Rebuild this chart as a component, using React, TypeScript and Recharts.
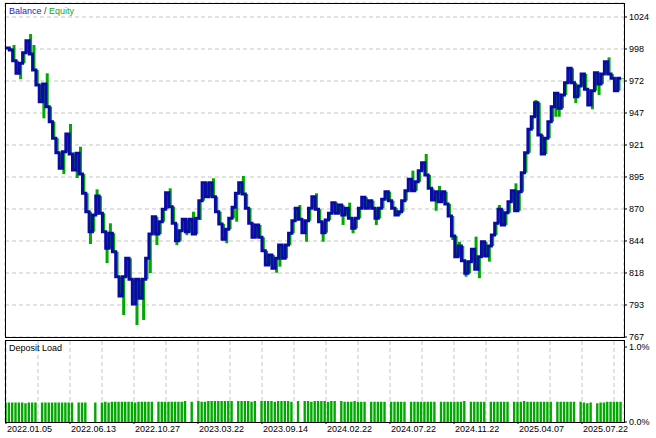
import React from "react";
import { ComposedChart, Line, Bar, XAxis, YAxis, CartesianGrid } from "recharts";

// balance after each deal (x axis = deal number)
const balance = [
  999.0, 997.5, 988.9, 978.8, 986.8, 995.3, 1005.0, 994.3, 981.4, 969.4,
  956.0, 970.2, 952.0, 939.9, 926.6, 915.0, 902.5, 915.8, 930.0, 914.0,
  901.1, 914.5, 897.9, 882.4, 867.6, 851.6, 865.0, 880.2, 866.4, 851.6,
  838.2, 850.3, 835.5, 815.4, 799.9, 815.4, 830.2, 813.3, 793.5, 813.3,
  798.1, 813.3, 830.2, 849.7, 863.6, 849.7, 859.6, 869.6, 882.9, 871.7,
  858.3, 844.3, 852.4, 861.5, 851.6, 861.5, 849.7, 862.3, 876.5, 890.9,
  879.7, 890.9, 879.7, 867.6, 857.8, 845.5, 853.5, 862.3, 871.2, 882.4,
  890.9, 881.9, 870.4, 858.3, 847.1, 857.0, 847.1, 836.3, 824.8, 832.9,
  822.2, 830.2, 840.9, 830.2, 840.9, 850.3, 860.4, 870.4, 861.5, 850.8,
  860.4, 870.4, 879.7, 869.6, 859.6, 850.8, 861.0, 866.4, 874.9, 866.4,
  873.0, 865.0, 870.4, 862.3, 854.3, 862.3, 870.4, 879.2, 870.4, 876.5,
  870.4, 862.3, 870.4, 877.6, 883.7, 876.5, 870.4, 865.0, 867.6, 876.5,
  884.5, 893.7, 884.5, 891.7, 900.6, 907.0, 897.1, 886.4, 877.0, 883.7,
  875.7, 883.7, 873.8, 864.2, 848.1, 831.5, 840.1, 828.3, 818.2, 827.5,
  837.4, 821.4, 831.5, 843.5, 832.1, 840.1, 848.9, 858.3, 869.6, 857.0,
  866.8, 875.7, 884.5, 868.4, 883.7, 899.0, 915.0, 933.8, 943.9, 955.2,
  929.2, 914.0, 926.6, 939.9, 952.0, 962.7, 950.7, 961.4, 971.2, 982.8,
  971.2, 960.0, 968.6, 978.2, 965.9, 953.3, 964.8, 979.3, 970.2, 978.2,
  988.1, 978.2, 974.8, 964.8, 974.8, 974.8,
];

// furthest equity reached during each deal
const equity = [
  999.0, 997.5, 1001.5, 978.8, 974.0, 995.3, 1005.0, 1010.3, 1001.5, 969.4,
  956.0, 942.6, 978.8, 939.9, 926.6, 915.0, 902.5, 897.9, 930.0, 938.1,
  901.1, 894.7, 919.8, 882.4, 867.6, 841.7, 865.0, 885.6, 866.4, 851.6,
  826.4, 858.3, 835.5, 815.4, 799.9, 784.7, 830.2, 813.3, 793.5, 776.6,
  798.1, 780.7, 830.2, 818.4, 863.6, 840.9, 859.6, 869.6, 882.9, 886.4,
  858.3, 840.9, 852.4, 861.5, 848.9, 861.5, 867.6, 862.3, 861.0, 890.9,
  879.7, 890.9, 894.5, 867.6, 857.8, 845.5, 842.3, 862.3, 871.2, 859.6,
  890.9, 896.3, 870.4, 858.3, 847.1, 857.0, 847.1, 836.3, 824.8, 832.9,
  822.2, 818.6, 823.5, 830.2, 840.9, 850.3, 860.4, 870.4, 873.0, 850.8,
  843.5, 870.4, 879.7, 882.4, 859.6, 843.5, 861.0, 866.4, 874.9, 866.4,
  873.0, 857.0, 870.4, 874.9, 850.3, 862.3, 870.4, 879.2, 870.4, 876.5,
  870.4, 857.0, 870.4, 877.6, 883.7, 876.5, 870.4, 865.0, 867.6, 876.5,
  884.5, 893.7, 900.6, 891.7, 900.6, 907.0, 914.0, 886.4, 877.0, 868.4,
  888.3, 883.7, 873.8, 864.2, 844.9, 831.5, 843.5, 828.3, 815.4, 827.5,
  837.4, 847.6, 814.2, 843.5, 832.1, 827.5, 848.9, 858.3, 873.0, 857.0,
  866.8, 875.7, 884.5, 890.4, 883.7, 899.0, 915.0, 933.8, 943.9, 957.3,
  929.2, 914.0, 919.8, 939.9, 952.0, 943.9, 943.9, 961.4, 971.2, 982.8,
  971.2, 954.9, 968.6, 978.2, 965.9, 953.3, 949.9, 979.3, 961.4, 978.2,
  988.1, 991.6, 974.8, 964.8, 974.8, 974.8,
];

// deposit load per deal, in percent
const depositLoad = [
  0.26, 0.26, 0.26, 0.26, 0.26, 0.26, 0.25, 0.26, 0.26, 0.26,
  0, 0.26, 0.26, 0.26, 0.26, 0.26, 0.26, 0.26, 0.26, 0.26,
  0.26, 0, 0.26, 0.26, 0.26, 0, 0, 0.26, 0, 0.26,
  0.27, 0.26, 0.27, 0.27, 0.27, 0.27, 0.27, 0.27, 0.27, 0.26,
  0.27, 0.27, 0.27, 0.27, 0.27, 0, 0.27, 0.27, 0.27, 0.27,
  0.27, 0.27, 0.27, 0.27, 0.28, 0, 0.27, 0, 0.28, 0.27,
  0.27, 0.28, 0.28, 0.28, 0.28, 0.28, 0.28, 0.28, 0.28, 0,
  0.28, 0.28, 0.28, 0.28, 0.27, 0.28, 0, 0.28, 0.28, 0.28,
  0.28, 0.27, 0.28, 0.28, 0.28, 0.28, 0.27, 0, 0.28, 0,
  0.28, 0.28, 0.27, 0.28, 0.28, 0.28, 0.28, 0.27, 0.28, 0.28,
  0, 0.28, 0.27, 0.27, 0.27, 0.28, 0.27, 0.27, 0.27, 0,
  0.27, 0.27, 0.27, 0.27, 0.27, 0, 0.27, 0.27, 0.27, 0.27,
  0.27, 0, 0.27, 0.27, 0.27, 0.27, 0.27, 0.27, 0.27, 0.27,
  0, 0.27, 0.27, 0.27, 0.27, 0.27, 0.27, 0.27, 0.28, 0,
  0.27, 0.27, 0.27, 0.27, 0.27, 0, 0.27, 0.27, 0.27, 0.27,
  0.27, 0.27, 0, 0.27, 0.27, 0.27, 0.28, 0.27, 0.27, 0.27,
  0.27, 0.27, 0.27, 0.27, 0.27, 0, 0.27, 0.27, 0.27, 0.27,
  0.27, 0.27, 0, 0.27, 0.26, 0.25, 0.26, 0, 0.25, 0.26,
  0.26, 0.27, 0.27, 0.27, 0.27, 0.27,
];

const dateLabels = [
  "2022.01.05", "2022.06.13", "2022.10.27", "2023.03.22", "2023.09.14",
  "2024.02.22", "2024.07.22", "2024.11.22", "2025.04.07", "2025.07.22",
];

const balanceTicks = [767, 792.7, 818.4, 844.1, 869.8, 895.5, 921.2, 946.9, 972.6, 998.3, 1024];
const balanceTickLabels = ["767", "793", "818", "844", "870", "895", "921", "947", "972", "998", "1024"];
const loadTicks = [0, 1];
const loadTickLabels = ["0.0%", "1.0%"];

const FONT = "'Liberation Sans', Arial, sans-serif";
const BLUE = "#0a0aa8";
const GREEN = "#00a800";
const GRID = "#c4c4c4";

// x axis runs in deals; one grid column is ~9.63 deals wide, dates on every second line
const X_DOMAIN: [number, number] = [-0.3, 185.9];
const GRID_STEP = 9.626;
const gridTicks = Array.from({ length: 20 }, (_, k) => +(k * GRID_STEP).toFixed(3));

const rows = balance.map((b, i) => {
  const prev = i > 0 ? balance[i - 1] : b;
  const e = equity[i];
  return {
    n: i,
    balance: b,
    eq: [Math.min(prev, b, e), Math.max(prev, b, e)],
    load: depositLoad[i],
  };
});

// MT5 paints the equity swing just right of the balance step
function EquityStroke(props: any) {
  const { x, y, width, height } = props;
  if (height == null || width == null) return <g />;
  return <rect x={x + 1.5} y={y} width={width} height={Math.max(height, 1)} fill={GREEN} />;
}

function DateTick(props: any) {
  const { x, y, index } = props;
  if (index % 2 !== 0) return <g />;
  return (
    <g>
      <line x1={x} x2={x} y1={y} y2={y + 2} stroke="#000" />
      <text x={x + 1} y={y + 10} fontSize={9} fontFamily={FONT} fill="#000">
        {dateLabels[index / 2]}
      </text>
    </g>
  );
}

const frame = (top: number, height: number): React.CSSProperties => ({
  position: "absolute", left: 5, top, width: 620, height,
  border: "1px solid #000", boxSizing: "border-box", pointerEvents: "none",
});

export default function App() {
  return (
    <div style={{ position: "absolute", left: 0, top: 0, width: 656, height: 438, background: "#fff", overflow: "hidden" }}>
      <div style={{ position: "absolute", left: 0, top: 0 }}>
        <ComposedChart width={656} height={340} data={rows} margin={{ top: 3, right: 0, bottom: 3, left: 5 }}>
          <CartesianGrid stroke={GRID} strokeDasharray="4 3" />
          <XAxis
            type="number" dataKey="n" domain={X_DOMAIN} ticks={gridTicks} allowDataOverflow
            height={0} tick={false} axisLine={false} tickLine={false}
          />
          <YAxis
            orientation="right" domain={[767, 1035.24]} ticks={balanceTicks} allowDataOverflow interval={0}
            width={32} tickSize={3} tickMargin={2} axisLine={false} tickLine={{ stroke: "#000" }}
            tick={{ fontSize: 9, fill: "#000", fontFamily: FONT }}
            tickFormatter={(_v: number, i: number) => balanceTickLabels[i]}
          />
          <Bar dataKey="eq" fill={GREEN} barSize={3} shape={(p: any) => <EquityStroke {...p} />} isAnimationActive={false} />
          <Line type="stepAfter" dataKey="balance" stroke={BLUE} strokeWidth={3} dot={false} isAnimationActive={false} />
        </ComposedChart>
      </div>

      <div style={{ position: "absolute", left: 0, top: 340 }}>
        <ComposedChart width={656} height={98} data={rows} margin={{ top: 1, right: 0, bottom: 1, left: 5 }}>
          <CartesianGrid stroke={GRID} strokeDasharray="4 3" horizontal={false} />
          <XAxis
            type="number" dataKey="n" domain={X_DOMAIN} ticks={gridTicks} allowDataOverflow interval={0}
            height={15} axisLine={false} tickLine={false} tickSize={0} tickMargin={0}
            tick={(p: any) => <DateTick {...p} />}
          />
          <YAxis
            orientation="right" domain={[0, 1.08]} ticks={loadTicks} allowDataOverflow interval={0}
            width={32} tickSize={3} tickMargin={2} axisLine={false} tickLine={{ stroke: "#000" }}
            tick={{ fontSize: 9, fill: "#000", fontFamily: FONT }}
            tickFormatter={(_v: number, i: number) => loadTickLabels[i]}
          />
          <Bar dataKey="load" fill={GREEN} barSize={2.4} isAnimationActive={false} />
        </ComposedChart>
      </div>

      <div style={frame(3, 335)} />
      <div style={frame(340, 83)} />

      <div style={{ position: "absolute", left: 9, top: 5, fontFamily: FONT, fontSize: 9, lineHeight: "12px", whiteSpace: "nowrap" }}>
        <span style={{ color: "#1c1cc8" }}>Balance</span>
        <span style={{ color: "#333" }}> / </span>
        <span style={{ color: "#20a820" }}>Equity</span>
      </div>
      <div style={{ position: "absolute", left: 9, top: 342, fontFamily: FONT, fontSize: 9, lineHeight: "12px", color: "#000", whiteSpace: "nowrap" }}>
        Deposit Load
      </div>
    </div>
  );
}
